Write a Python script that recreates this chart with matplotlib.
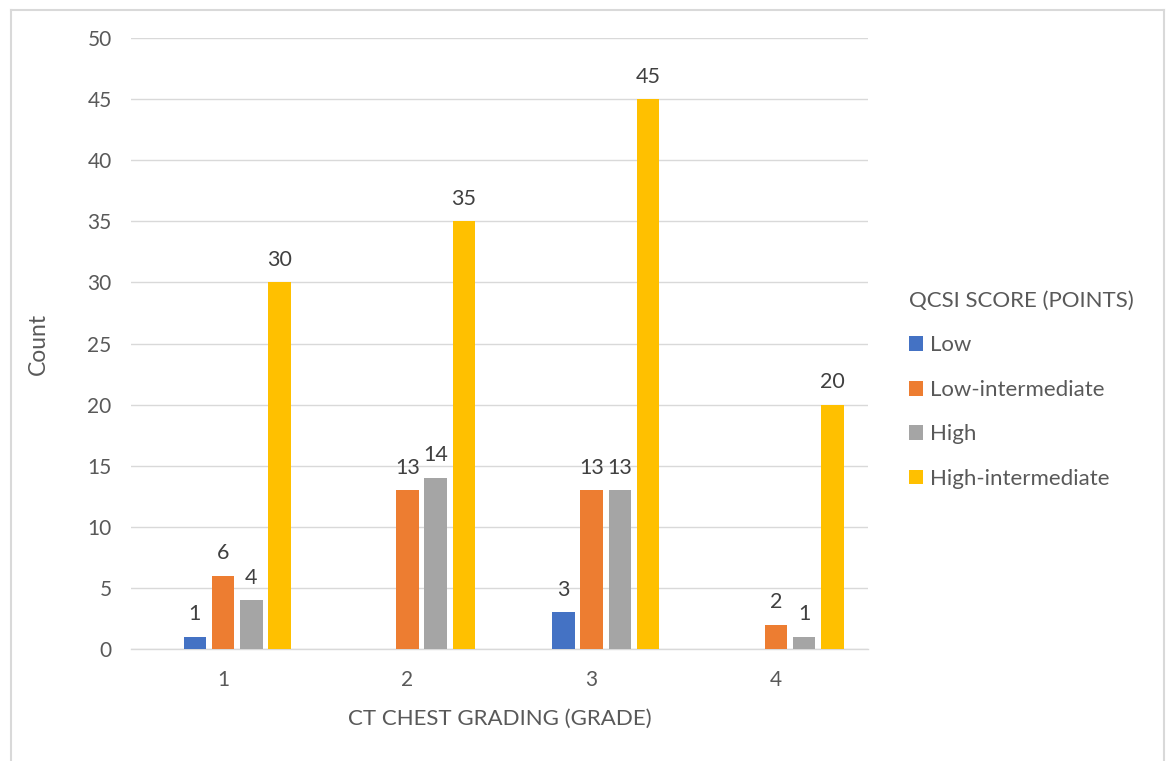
import matplotlib
matplotlib.use("Agg")
import matplotlib.pyplot as plt
from matplotlib.lines import Line2D
from matplotlib.patches import Patch
import numpy as np

plt.rcParams['font.family'] = ['Lato', 'DejaVu Sans']

categories = ["1", "2", "3", "4"]
series_names = ["Low", "Low-intermediate", "High", "High-intermediate"]
low = [1, 0, 3, 0]
low_intermediate = [6, 13, 13, 2]
high = [4, 14, 13, 1]
high_intermediate = [30, 35, 45, 20]
colors = ["#4472C4", "#ED7D31", "#A5A5A5", "#FFC000"]
y_ticks = [0, 5, 10, 15, 20, 25, 30, 35, 40, 45, 50]

text_color = "#595959"
W, H = 1167, 761
fig = plt.figure(figsize=(W / 100, H / 100), dpi=100)
ax = fig.add_axes([131 / W, (H - 649) / H, (868 - 131) / W, (649 - 38) / H])

x = np.arange(1, len(categories) + 1)
step = 0.1535
width = 0.122
offsets = [-1, 0, 1, 2]
all_series = [low, low_intermediate, high, high_intermediate]

for vals, off, col in zip(all_series, offsets, colors):
    bars = ax.bar(x + off * step, vals, width=width, color=col, zorder=3)
    for b, v in zip(bars, vals):
        if v > 0:
            ax.annotate(str(v), (b.get_x() + b.get_width() / 2, v),
                        xytext=(0, 9), textcoords="offset points",
                        ha="center", va="bottom", fontsize=15.5, color="#404040")

ax.set_xlim(0.5, 4.5)
ax.set_ylim(0, 50)
ax.set_yticks(y_ticks)
ax.set_xticks(x)
ax.set_xticklabels(categories)
ax.grid(axis="y", color="#D9D9D9", linewidth=1, zorder=0)
for s in ["top", "right", "left"]:
    ax.spines[s].set_visible(False)
ax.spines["bottom"].set_color("#D9D9D9")
ax.spines["bottom"].set_linewidth(1)
ax.tick_params(axis="both", length=0, labelsize=15, labelcolor=text_color)
ax.tick_params(axis="y", pad=14)
ax.tick_params(axis="x", pad=15)

ax.set_ylabel("Count", fontsize=16.5, color=text_color, labelpad=28)
ax.set_xlabel("CT CHEST GRADING (GRADE)", fontsize=16, color=text_color, labelpad=14)

handles = [Patch(facecolor=c, edgecolor="none") for c in colors]
leg = fig.legend(handles, series_names, title="QCSI SCORE (POINTS)",
                 loc="upper left", bbox_to_anchor=(889 / W, 1 - 271 / H),
                 frameon=False, fontsize=16, title_fontsize=16,
                 handlelength=0.65, handleheight=0.65, handletextpad=0.3,
                 labelspacing=1.1, alignment="left", labelcolor=text_color)
leg.get_title().set_color(text_color)

# light frame around the chart area
frame_kw = dict(color="#D9D9D9", linewidth=1.5, transform=fig.transFigure)
x0, x1 = 10.5 / W, 1164 / W
y_top = 1 - 9.5 / H
fig.add_artist(Line2D([x0, x0], [0, y_top], **frame_kw))
fig.add_artist(Line2D([x0, x1], [y_top, y_top], **frame_kw))
fig.add_artist(Line2D([x1, x1], [0, y_top], **frame_kw))

fig.savefig("out.png", dpi=100)
